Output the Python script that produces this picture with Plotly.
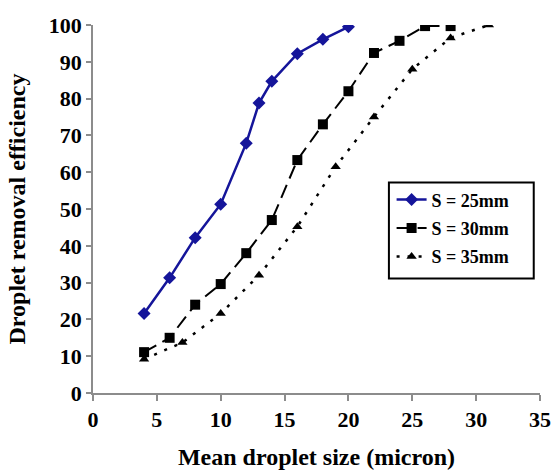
import plotly.graph_objects as go

# Mean droplet size (micron) and droplet removal efficiency (%) for three spacings
size_25 = [4, 6, 8, 10, 12, 13, 14, 16, 18, 20]
eff_25 = [21.6, 31.3, 42.2, 51.3, 67.9, 78.8, 84.7, 92.2, 96.1, 99.5]

size_30 = [4, 6, 8, 10, 12, 14, 16, 18, 20, 22, 24, 26, 28]
eff_30 = [11.1, 15.0, 24.0, 29.6, 38.0, 47.0, 63.3, 73.0, 82.0, 92.4, 95.7, 99.7, 99.7]

size_35 = [4, 7, 10, 13, 16, 19, 22, 25, 28, 31]
eff_35 = [9.2, 13.7, 21.6, 32.0, 45.2, 61.5, 75.0, 88.0, 96.5, 100.0]

x_ticks = [0, 5, 10, 15, 20, 25, 30, 35]
y_ticks = [0, 10, 20, 30, 40, 50, 60, 70, 80, 90, 100]

FONT = "Liberation Serif, Times New Roman, serif"
AXIS_GREY = "#8c8c8c"

fig = go.Figure()

fig.add_trace(go.Scatter(
    x=size_25, y=eff_25, name="S = 25mm", mode="lines+markers", legendgroup="a",
    line=dict(color="#15159a", width=2.5),
    marker=dict(symbol="diamond", size=10, color="#15159a"),
))
fig.add_trace(go.Scatter(
    x=size_30, y=eff_30, name="S = 30mm", mode="lines+markers", legendgroup="b",
    line=dict(color="black", width=2, dash="14px,7px"),
    marker=dict(symbol="square", size=10, color="black"),
))
fig.add_trace(go.Scatter(
    x=size_35, y=eff_35, name="S = 35mm", mode="lines+markers", legendgroup="c",
    line=dict(color="black", width=2.5, dash="3px,8px"),
    marker=dict(symbol="triangle-up", size=9, color="black"),
))

# legend frame drawn as a shape so its size can be set freely
fig.add_shape(type="rect", xref="paper", yref="paper",
              x0=0.662, x1=0.986, y0=0.311, y1=0.572,
              line=dict(color="black", width=2), fillcolor="rgba(0,0,0,0)",
              layer="above")

fig.update_layout(
    width=555, height=470,
    margin=dict(l=93, r=15, t=25, b=77),
    paper_bgcolor="white", plot_bgcolor="white",
    font=dict(family=FONT, size=22, color="black", weight="bold"),
    showlegend=True,
    legend=dict(
        x=0.668, y=0.575, xanchor="left", yanchor="top",
        bgcolor="rgba(0,0,0,0)", borderwidth=0,
        font=dict(family=FONT, size=18, color="black", weight="bold"),
        tracegroupgap=2, itemwidth=30,
    ),
    xaxis=dict(
        range=[0, 35], tickmode="array", tickvals=x_ticks, automargin=False,
        showgrid=False, zeroline=False,
        showline=True, linecolor=AXIS_GREY, linewidth=1.5,
        ticks="outside", ticklen=6, tickcolor=AXIS_GREY, tickwidth=1.5,
        tickfont=dict(family=FONT, size=22, color="black", weight="bold"),
        title=dict(text="Mean droplet size (micron)", standoff=24,
                   font=dict(family=FONT, size=24, color="black", weight="bold")),
    ),
    yaxis=dict(
        range=[0, 100], tickmode="array", tickvals=y_ticks, automargin=False,
        showgrid=False, zeroline=False,
        showline=True, linecolor=AXIS_GREY, linewidth=1.5,
        ticks="outside", ticklen=5, tickcolor=AXIS_GREY, tickwidth=1.5,
        tickfont=dict(family=FONT, size=22, color="black", weight="bold"),
        title=dict(text="Droplet removal efficiency", standoff=16,
                   font=dict(family=FONT, size=24, color="black", weight="bold")),
    ),
)

fig.write_html("out.html")
